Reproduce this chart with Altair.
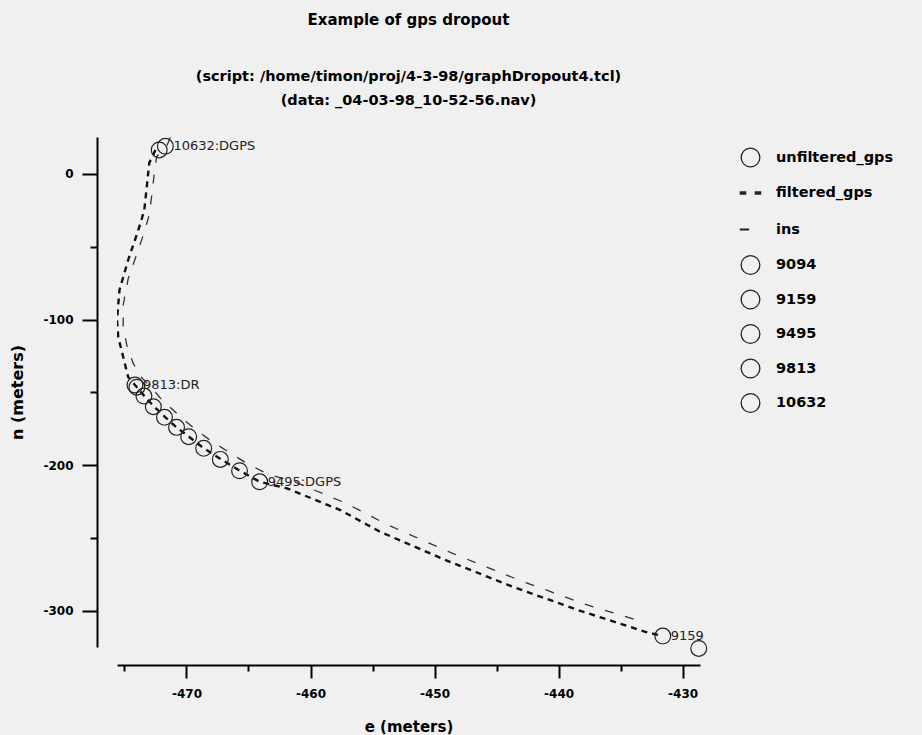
import altair as alt
import pandas as pd

# ---- data ----
filtered_e = [-472.5, -473.0, -473.2, -473.4, -473.7, -474.1, -474.7, -475.4, -475.6, -475.5,
              -475.1, -474.7, -474.15, -473.4, -472.6, -471.7, -470.8, -469.8, -468.6, -467.2,
              -465.7, -464.1, -461.9, -457.6, -454.4, -449.1, -443.7, -438.4, -433.0, -431.6]
filtered_n = [16.5, 7.6, -8.9, -24.7, -33.7, -44.0, -59.1, -79.7, -100.3, -112.0,
              -125.8, -139.5, -145.0, -152.6, -159.9, -167.2, -174.1, -180.5, -188.5, -196.1,
              -203.9, -211.5, -216.0, -230.9, -245.8, -265.3, -283.6, -299.7, -314.6, -317.5]

ins_e = [-471.3, -471.6, -472.4, -472.6, -472.8, -473.0, -473.4, -474.0, -474.7, -475.1,
         -475.1, -474.8, -474.3, -473.6, -472.8, -472.0, -471.1, -470.2, -469.2, -468.0,
         -466.6, -465.1, -463.5, -461.3, -457.2, -453.8, -448.6, -443.2, -437.9, -433.5]
ins_n = [25.0, 19.0, 12.0, 0.0, -15.0, -28.0, -40.0, -55.0, -72.0, -90.0,
         -105.0, -118.0, -130.0, -140.0, -147.0, -155.0, -162.0, -169.0, -176.0, -183.5,
         -191.0, -199.0, -206.0, -211.5, -226.0, -241.0, -260.5, -279.0, -295.5, -307.0]

unfiltered_e = [-472.2, -474.0, -473.43, -472.67, -471.77, -470.80, -469.82, -468.61, -467.27, -465.72]
unfiltered_n = [16.5, -146.5, -152.6, -159.9, -167.2, -174.1, -180.5, -188.5, -196.1, -203.9]

named_ids = ["9094", "9159", "9495", "9813", "10632"]
named_e = [-428.7, -431.6, -464.1, -474.15, -471.7]
named_n = [-326.0, -317.5, -211.5, -145.0, 19.0]
named_text = ["", "9159", "9495:DGPS", "9813:DR", "10632:DGPS"]

legend_names = ["unfiltered_gps", "filtered_gps", "ins", "9094", "9159", "9495", "9813", "10632"]

# ---- tables ----
filtered_df = pd.DataFrame({"e": filtered_e, "n": filtered_n, "i": range(len(filtered_e))})
ins_df = pd.DataFrame({"e": ins_e, "n": ins_n, "i": range(len(ins_e))})
markers_df = pd.DataFrame({
    "e": unfiltered_e + named_e,
    "n": unfiltered_n + named_n,
    "series": ["unfiltered_gps"] * len(unfiltered_e) + named_ids,
})
labels_df = pd.DataFrame({"e": named_e, "n": named_n, "label": named_text})
labels_df = labels_df[labels_df["label"] != ""]

FONT = "DejaVu Sans"

# invisible move-tos keep every legend row the same height as a circle row
pad = "M0,-1.06M0,1.06"
two_dashes = (pad + "M-1.15,-0.12H-0.45M-1.15,-0.04H-0.45M-1.15,0.04H-0.45M-1.15,0.12H-0.45"
              "M0.45,-0.12H1.15M0.45,-0.04H1.15M0.45,0.04H1.15M0.45,0.12H1.15")
short_dash = pad + "M-1.15,-0.04H-0.15M-1.15,0.04H-0.15"
shapes = ["circle", two_dashes, short_dash, "circle", "circle", "circle", "circle", "circle"]

x_scale = alt.Scale(domain=[-475.6, -428.6], nice=False, zero=False)
y_scale = alt.Scale(domain=[-325, 25.4], nice=False, zero=False)

x_axis = alt.Axis(
    title="e (meters)", values=list(range(-475, -429, 5)),
    labelExpr="datum.value % 10 === 0 ? '' + datum.value : ''",
    offset=18, grid=False, domainColor="black", domainWidth=2,
    tickColor="black", tickWidth=2,
    tickSize={"condition": {"test": "datum.value % 10 === 0", "value": 13}, "value": 6},
    labelFont=FONT, labelFontSize=12, labelFontWeight="bold", labelColor="black",
    labelPadding=10, labelOverlap=False, labelFlush=False,
    titleFont=FONT, titleFontSize=15, titleFontWeight="bold", titleColor="black",
    titlePadding=20,
)
y_axis = alt.Axis(
    title="n (meters)", values=list(range(-300, 1, 50)),
    labelExpr="datum.value % 100 === 0 ? '' + datum.value : ''",
    offset=20, grid=False, domainColor="black", domainWidth=2,
    tickColor="black", tickWidth=2,
    tickSize={"condition": {"test": "datum.value % 100 === 0", "value": 15}, "value": 7},
    labelFont=FONT, labelFontSize=12, labelFontWeight="bold", labelColor="black",
    labelPadding=9, labelOverlap=False, labelFlush=False,
    titleFont=FONT, titleFontSize=16, titleFontWeight="bold", titleColor="black",
    titlePadding=17,
)

ins_line = alt.Chart(ins_df).mark_line(
    color="#333333", strokeWidth=1.3, strokeDash=[9, 12], clip=True
).encode(
    x=alt.X("e:Q", scale=x_scale, axis=x_axis),
    y=alt.Y("n:Q", scale=y_scale, axis=y_axis),
    order="i:Q",
)

filtered_line = alt.Chart(filtered_df).mark_line(
    color="#111111", strokeWidth=2.4, strokeDash=[6, 5], clip=True
).encode(
    x=alt.X("e:Q", scale=x_scale),
    y=alt.Y("n:Q", scale=y_scale),
    order="i:Q",
)

markers = alt.Chart(markers_df).mark_point(
    filled=False, size=250, strokeWidth=1.2, color="#222222", opacity=1
).encode(
    x=alt.X("e:Q", scale=x_scale),
    y=alt.Y("n:Q", scale=y_scale),
    shape=alt.Shape(
        "series:N",
        scale=alt.Scale(domain=legend_names, range=shapes),
        legend=alt.Legend(
            title=None, orient="none", legendX=623, legendY=10, padding=0,
            symbolSize=350, symbolStrokeWidth=1.3, symbolStrokeColor="#222222",
            symbolFillColor="transparent", rowPadding=9.5, labelOffset=15,
            labelFont=FONT, labelFontSize=14.5, labelFontWeight="bold", labelColor="black",
            labelLimit=300,
        ),
    ),
)

labels = alt.Chart(labels_df).mark_text(
    align="left", baseline="middle", dx=8, font=FONT, fontSize=13, color="#222222"
).encode(
    x=alt.X("e:Q", scale=x_scale),
    y=alt.Y("n:Q", scale=y_scale),
    text="label:N",
)

chart = alt.layer(ins_line, filtered_line, markers, labels).properties(
    width=583, height=510,
    title=alt.TitleParams(
        text="Example of gps dropout",
        subtitle=["(script: /home/timon/proj/4-3-98/graphDropout4.tcl)",
                  "(data: _04-03-98_10-52-56.nav)"],
        font=FONT, fontSize=15, fontWeight="bold", color="black",
        subtitleFont=FONT, subtitleFontSize=14.5, subtitleFontWeight="bold",
        subtitleColor="black", subtitlePadding=42, subtitleLineHeight=24,
        anchor="middle", frame="group", offset=29,
    ),
    background="#f0f0f0",
    padding={"left": 117, "top": 137, "right": 222, "bottom": 88},
    autosize=alt.AutoSizeParams(type="none"),
).configure_view(stroke=None)

chart.save("out.html", embed_options={"renderer": "svg", "actions": False})
